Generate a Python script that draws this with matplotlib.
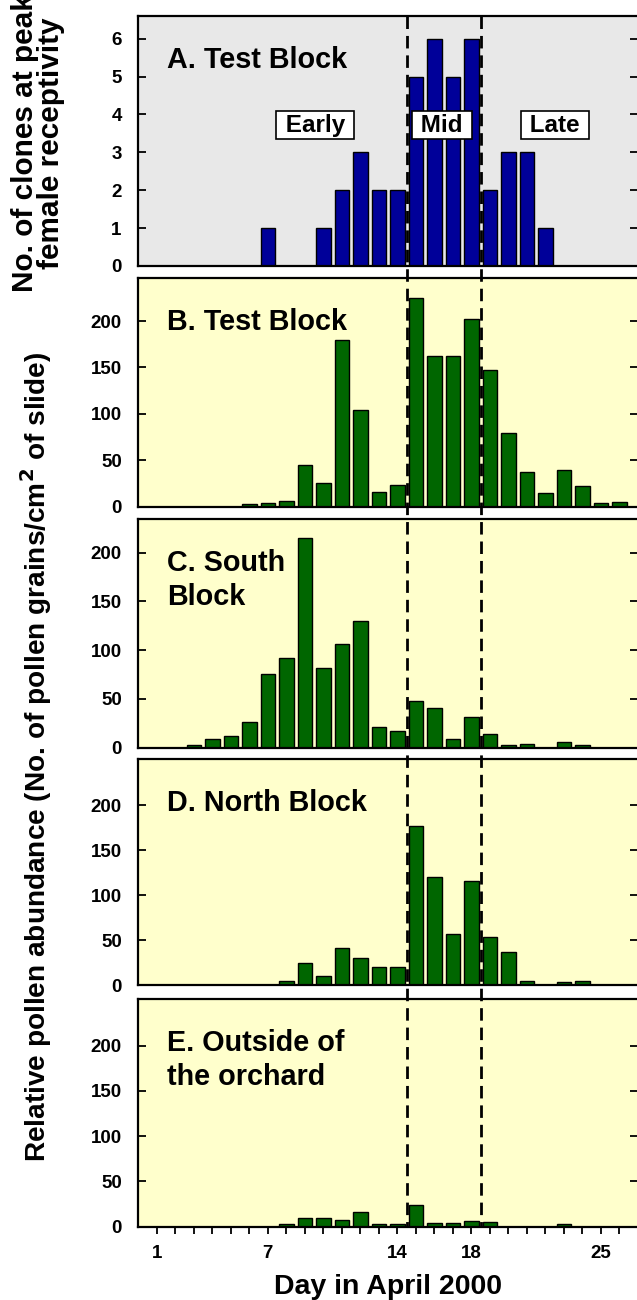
import numpy as np
import matplotlib
matplotlib.use("Agg")
import matplotlib.pyplot as plt
from matplotlib.lines import Line2D
from matplotlib.transforms import blended_transform_factory

plt.rcParams['font.family'] = ['Liberation Sans', 'DejaVu Sans']
plt.rcParams['font.weight'] = 'bold'

days = np.arange(1, 27)

# panel A: number of clones at peak female receptivity
clones = [0, 0, 0, 0, 0, 0, 1, 0, 0, 1, 2, 3, 2, 2, 5, 6, 5, 6, 2, 3, 3, 1, 0, 0, 0, 0]
# panels B-E: pollen grains / cm2
test_block = [0, 0, 0, 0, 0, 2.5, 3.6, 5.8, 45, 25, 180, 104, 16, 23, 225, 162, 162, 202,
              147, 79, 37, 15, 40, 22, 4, 5]
south_block = [0, 0, 3, 9, 12, 26, 76, 92, 215, 82, 106, 130, 21, 17, 48, 41, 9, 31,
               14, 3, 4, 0, 5.5, 3, 0, 0]
north_block = [0, 0, 0, 0, 0, 0, 0, 4, 24, 10, 41, 30, 20, 19.5, 177, 120, 57, 116,
               53, 37, 5, 0, 3, 4, 0, 0]
outside = [0, 0, 0, 0, 0, 0, 0, 3, 10, 10, 7.5, 16.5, 2.5, 2.5, 24, 4.5, 4.5, 6,
           5, 0, 0, 0, 3, 0, 0, 0]

titles = ["A. Test Block", "B. Test Block", "C. South\nBlock", "D. North Block",
          "E. Outside of\nthe orchard"]
series = [clones, test_block, south_block, north_block, outside]
ytops = [6.6, 246, 234.6, 250.8, 251]
phase_labels = [" Early ", " Mid ", " Late "]
phase_x = [9.55, 16.4, 22.5]
phase_bounds = [14.5, 18.5]
xtick_labels = [1, 7, 14, 18, 25]

fig = plt.figure(figsize=(6.37, 13.0), dpi=100)

# axes boxes in pixels (top, bottom)
W, H = 637.0, 1300.0
left, right = 138.4, 638.0
boxes = [(16, 266), (278.3, 506.7), (519, 747.7), (759.3, 985), (999.3, 1226.7)]

axes = []
for i, (top, bot) in enumerate(boxes):
    ax = fig.add_axes([left / W, 1 - bot / H, (right - left) / W, (bot - top) / H])
    axes.append(ax)
    vals = np.array(series[i], dtype=float)
    m = vals > 0
    if i == 0:
        face = '#000099'
        ax.set_facecolor('#E8E8E8')
    else:
        face = '#006600'
        ax.set_facecolor('#FFFFCC')
    ax.bar(days[m], vals[m], width=0.8, color=face, edgecolor='black', linewidth=1.0, zorder=2)
    ax.set_xlim(0, 27)
    ax.set_ylim(0, ytops[i])
    for s in ax.spines.values():
        s.set_linewidth(1.6)
    if i == 0:
        ax.set_yticks(range(0, 7))
    else:
        ax.set_yticks([0, 50, 100, 150, 200])
    ax.tick_params(axis='y', direction='in', length=6, width=1.3, labelsize=13.5, pad=12,
                   right=True, left=True)
    if i < 4:
        ax.set_xticks([])
    else:
        ax.set_xticks(days)
        ax.set_xticklabels([str(d) if d in xtick_labels else '' for d in days])
        ax.tick_params(axis='x', direction='out', length=5, width=1.3, labelsize=13.5, pad=8)
    for lbl in ax.get_yticklabels() + ax.get_xticklabels():
        lbl.set_fontweight('bold')

    lines = titles[i].split("\n")
    ybase = 1 - 52.0 / (bot - top)
    for k, line in enumerate(lines):
        ax.text(0.057, ybase - k * 33.5 / (bot - top), line, transform=ax.transAxes,
                fontsize=20.7, fontweight='bold', va='baseline', ha='left', zorder=5)

# phase boxes on panel A
for xp, lab in zip(phase_x, phase_labels):
    axes[0].text(xp, 3.72, lab, fontsize=17.5, fontweight='bold', ha='center', va='center',
                 zorder=6,
                 bbox=dict(boxstyle='square,pad=0.1', facecolor='white', edgecolor='black',
                           linewidth=1.2))

# dashed phase boundaries across all panels
trans = blended_transform_factory(axes[4].transData, fig.transFigure)
for xb in phase_bounds:
    fig.add_artist(Line2D([xb, xb], [1 - boxes[0][0] / H, 1 - boxes[4][1] / H],
                          transform=trans, color='black', linewidth=2.0,
                          linestyle=(0, (4.5, 2.5)), zorder=10))

axes[4].set_xlabel("Day in April 2000", fontsize=20.5, fontweight='bold', labelpad=9)

fig.text(38 / W, 1 - 143 / H, "No. of clones at peak\nfemale receptivity", rotation=90,
         fontsize=21.4, fontweight='bold', ha='center', va='center', linespacing=0.95)
fig.text(36 / W, 1 - 757 / H,
         "Relative pollen abundance (No. of pollen grains/cm$^{\\mathbf{2}}$ of slide)",
         rotation=90, fontsize=20.2, fontweight='bold', ha='center', va='center')

fig.savefig("out.png", dpi=100)
